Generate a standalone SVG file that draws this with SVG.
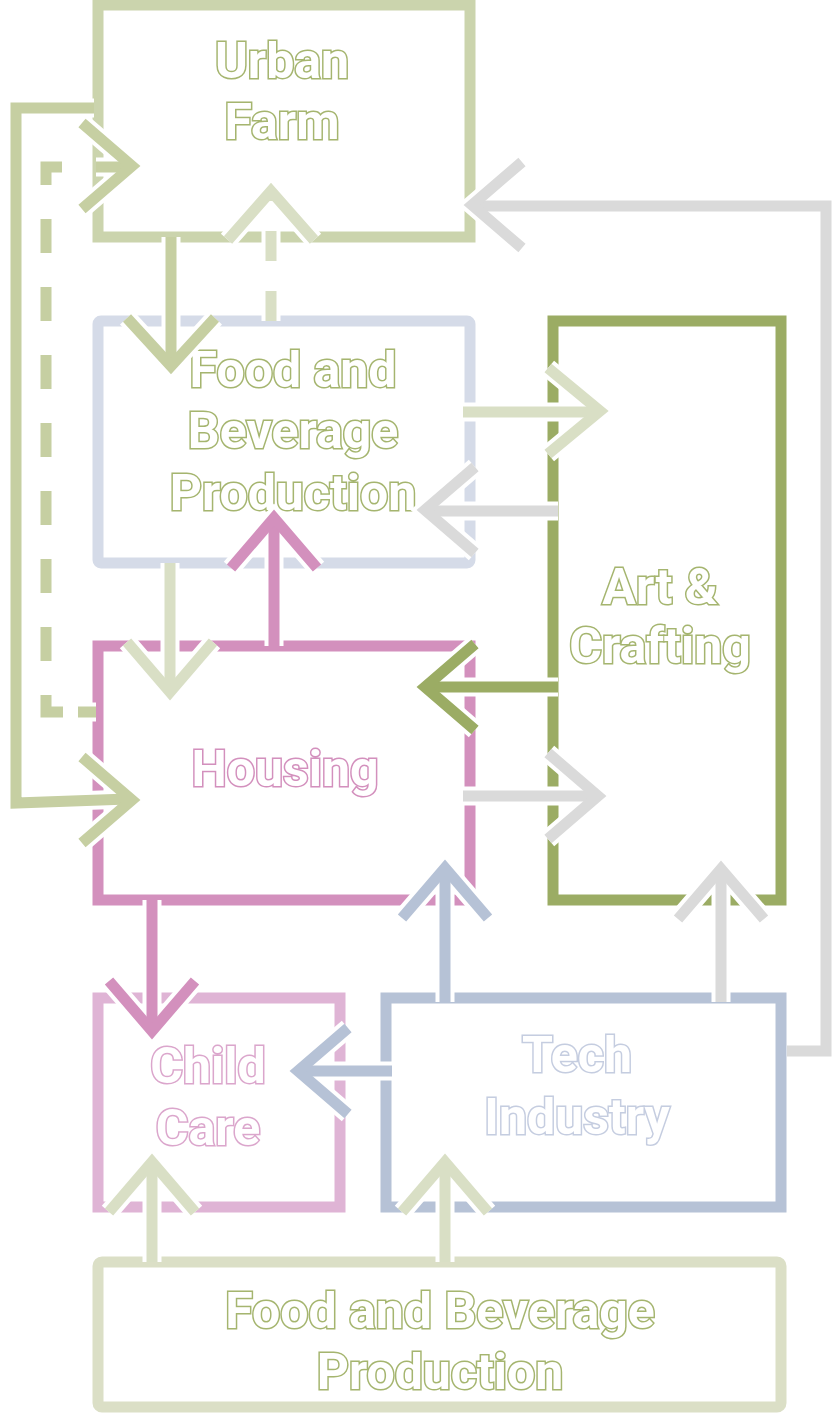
<svg xmlns="http://www.w3.org/2000/svg" xmlns:xlink="http://www.w3.org/1999/xlink" width="836" height="1414" viewBox="0 0 836 1414">
<style>
.box{fill:none;stroke-width:11}
.lbl{font-family:Roboto,"Liberation Sans",sans-serif;font-weight:700;font-size:50px;fill:#fff;stroke-width:3;paint-order:stroke;stroke-linejoin:miter;text-anchor:middle}
.halo{fill:none;stroke:#fff;stroke-width:19;stroke-linejoin:miter;stroke-miterlimit:10}
.ln{fill:none;stroke-width:11;stroke-linejoin:miter;stroke-miterlimit:10}
.olive{stroke:#c6cfa2}
.pale{stroke:#d9dfc5}
.grey{stroke:#dadada}
.dark{stroke:#9bac64}
.pink{stroke:#d390bd}
.blue{stroke:#b6c2d6}
.dash1{stroke-dasharray:18 15 34 34 34 34 34 34 34 34 34 34 34 34 34 34 34 34 34 34 34 34}
.dash2{stroke-dasharray:30 30}
</style>
<defs>
<path id="p1" d="M94,108 H16 V803 L128,799"/>
<path id="h1" d="M82,757 L132,800 L82,843"/>
<path id="p2" d="M96,712 H46 V167 H130"/>
<path id="h2" d="M82,123 L132,166 L82,209"/>
<path id="p3" d="M171,237 V364"/>
<path id="h3" d="M127,318 L171,366 L215,318"/>
<path id="p4" d="M271,321 V193"/>
<path id="h4" d="M228,240 L271,191 L314,240"/>
<path id="p5" d="M463,412 H598"/>
<path id="h5" d="M548,368 L600,411 L548,454"/>
<path id="p6" d="M558,511 H427"/>
<path id="h6" d="M475,467 L425,510 L475,553"/>
<path id="p7" d="M558,687 H427"/>
<path id="h7" d="M475,644 L425,687 L475,730"/>
<path id="p8" d="M463,796 H596"/>
<path id="h8" d="M548,753 L598,796 L548,839"/>
<path id="p9" d="M274,646 V520"/>
<path id="h9" d="M231,568 L274,518 L317,568"/>
<path id="p10" d="M170,563 V690"/>
<path id="h10" d="M127,642 L170,692 L213,642"/>
<path id="p11" d="M152,900 V1029"/>
<path id="h11" d="M109,981 L152,1031 L195,981"/>
<path id="p12" d="M445,1002 V870"/>
<path id="h12" d="M402,918 L445,868 L488,918"/>
<path id="p13" d="M721,1002 V871"/>
<path id="h13" d="M678,919 L721,869 L764,919"/>
<path id="p14" d="M392,1071 H300"/>
<path id="h14" d="M348,1028 L298,1071 L348,1114"/>
<path id="p15" d="M152,1262 V1164"/>
<path id="h15" d="M109,1212 L152,1162 L195,1212"/>
<path id="p16" d="M445,1262 V1164"/>
<path id="h16" d="M402,1212 L445,1162 L488,1212"/>
<path id="p17" d="M787,1051 H826 V206 H474"/>
<path id="h17" d="M522,162 L472,205 L522,248"/>
</defs>

<g id="urban-farm">
<rect class="box" x="98" y="5" width="372" height="232" stroke="#cbd4ad" stroke-width="9"/>
<text class="lbl" x="282" y="78" stroke="#a5b56f">Urban</text>
<text class="lbl" x="282" y="139" stroke="#a5b56f">Farm</text>
</g>
<g id="food-beverage-top">
<rect class="box" x="98" y="321" width="372" height="242" rx="3" stroke="#d5dbe8"/>
<text class="lbl" x="293" y="387" stroke="#a5b56f">Food and</text>
<text class="lbl" x="293" y="448" stroke="#a5b56f">Beverage</text>
<text class="lbl" x="293" y="510" stroke="#a5b56f">Production</text>
</g>
<g id="art-crafting">
<rect class="box" x="553" y="321" width="228" height="579" stroke="#9bac64"/>
<text class="lbl" x="660" y="604" stroke="#a5b56f">Art &amp;</text>
<text class="lbl" x="660" y="663" stroke="#a5b56f">Crafting</text>
</g>
<g id="housing">
<rect class="box" x="98" y="646" width="372" height="254" stroke="#d390bd"/>
<text class="lbl" x="285" y="786" stroke="#d390bd">Housing</text>
</g>
<g id="child-care">
<rect class="box" x="98" y="998" width="242" height="209" stroke="#dfb4d5"/>
<text class="lbl" x="208" y="1083" stroke="#dba6cc">Child</text>
<text class="lbl" x="208" y="1145" stroke="#dba6cc">Care</text>
</g>
<g id="tech-industry">
<rect class="box" x="386" y="998" width="395" height="209" stroke="#b6c2d6"/>
<text class="lbl" x="577" y="1072" stroke="#c5cde0">Tech</text>
<text class="lbl" x="577" y="1134" stroke="#c5cde0">Industry</text>
</g>
<g id="food-beverage-bottom">
<rect class="box" x="98" y="1262" width="683" height="145" rx="4" stroke="#dbdfc6"/>
<text class="lbl" x="440" y="1328" stroke="#a5b56f">Food and Beverage</text>
<text class="lbl" x="440" y="1389" stroke="#a5b56f">Production</text>
</g>

<g id="connectors">
<g><use xlink:href="#p1" class="halo"/><use xlink:href="#h1" class="halo"/><use xlink:href="#p1" class="ln olive"/><use xlink:href="#h1" class="ln olive"/></g>
<g><use xlink:href="#p2" class="halo dash1"/><use xlink:href="#h2" class="halo"/><use xlink:href="#p2" class="ln olive dash1"/><use xlink:href="#h2" class="ln olive"/></g>
<g><use xlink:href="#p3" class="halo"/><use xlink:href="#h3" class="halo"/><use xlink:href="#p3" class="ln olive"/><use xlink:href="#h3" class="ln olive"/></g>
<g><use xlink:href="#p4" class="halo"/><use xlink:href="#h4" class="halo"/><use xlink:href="#p4" class="ln pale dash2"/><use xlink:href="#h4" class="ln pale"/></g>
<g><use xlink:href="#p5" class="halo"/><use xlink:href="#h5" class="halo"/><use xlink:href="#p5" class="ln pale"/><use xlink:href="#h5" class="ln pale"/></g>
<g><use xlink:href="#p6" class="halo"/><use xlink:href="#h6" class="halo"/><use xlink:href="#p6" class="ln grey"/><use xlink:href="#h6" class="ln grey"/></g>
<g><use xlink:href="#p7" class="halo"/><use xlink:href="#h7" class="halo"/><use xlink:href="#p7" class="ln dark"/><use xlink:href="#h7" class="ln dark"/></g>
<g><use xlink:href="#p8" class="halo"/><use xlink:href="#h8" class="halo"/><use xlink:href="#p8" class="ln grey"/><use xlink:href="#h8" class="ln grey"/></g>
<g><use xlink:href="#p9" class="halo"/><use xlink:href="#h9" class="halo"/><use xlink:href="#p9" class="ln pink"/><use xlink:href="#h9" class="ln pink"/></g>
<g><use xlink:href="#p10" class="halo"/><use xlink:href="#h10" class="halo"/><use xlink:href="#p10" class="ln pale"/><use xlink:href="#h10" class="ln pale"/></g>
<g><use xlink:href="#p11" class="halo"/><use xlink:href="#h11" class="halo"/><use xlink:href="#p11" class="ln pink"/><use xlink:href="#h11" class="ln pink"/></g>
<g><use xlink:href="#p12" class="halo"/><use xlink:href="#h12" class="halo"/><use xlink:href="#p12" class="ln blue"/><use xlink:href="#h12" class="ln blue"/></g>
<g><use xlink:href="#p13" class="halo"/><use xlink:href="#h13" class="halo"/><use xlink:href="#p13" class="ln grey"/><use xlink:href="#h13" class="ln grey"/></g>
<g><use xlink:href="#p14" class="halo"/><use xlink:href="#h14" class="halo"/><use xlink:href="#p14" class="ln blue"/><use xlink:href="#h14" class="ln blue"/></g>
<g><use xlink:href="#p15" class="halo"/><use xlink:href="#h15" class="halo"/><use xlink:href="#p15" class="ln pale"/><use xlink:href="#h15" class="ln pale"/></g>
<g><use xlink:href="#p16" class="halo"/><use xlink:href="#h16" class="halo"/><use xlink:href="#p16" class="ln pale"/><use xlink:href="#h16" class="ln pale"/></g>
<g><use xlink:href="#p17" class="halo"/><use xlink:href="#h17" class="halo"/><use xlink:href="#p17" class="ln grey"/><use xlink:href="#h17" class="ln grey"/></g>
</g>
</svg>
